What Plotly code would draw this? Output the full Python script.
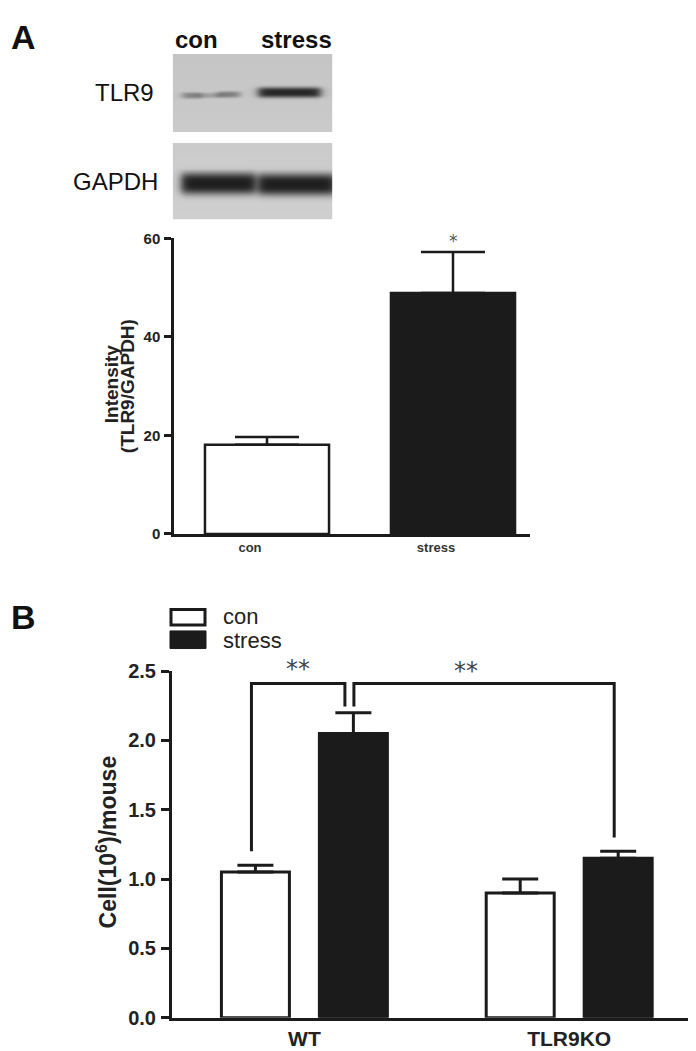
import numpy as np
import plotly.graph_objects as go

W, H = 696, 1051

# ---------------- data ----------------
# Panel A: densitometry
a_categories = ["con", "stress"]
a_means = [18.1, 48.9]
a_sem = [1.6, 8.3]
a_yticks = [0, 20, 40, 60]

# Panel B: cell counts
b_groups = ["WT", "TLR9KO"]
b_con_means = [1.05, 0.90]
b_con_sem = [0.05, 0.10]
b_stress_means = [2.05, 1.15]
b_stress_sem = [0.15, 0.05]
b_yticks = [0.0, 0.5, 1.0, 1.5, 2.0, 2.5]

# Western blot (relative band darkness per lane)
blot_rows = ["TLR9", "GAPDH"]
blot_lanes = ["con", "stress"]
blot_tlr9 = [0.45, 0.95]
blot_gapdh = [1.0, 1.0]

FONT = "Liberation Sans, Arial, sans-serif"
STAR_FONT = "DejaVu Sans, sans-serif"
INK = "#1b1b1b"


def px(x):
    return x / W


def py(y):
    return 1 - y / H


# ---------------- blot image ----------------
ix0, ix1, iy0, iy1 = 163, 326, 35, 205
bw, bh = ix1 - ix0, iy1 - iy0
yy, xx = np.mgrid[0:bh, 0:bw].astype(float)
xx += ix0
yy += iy0
img = np.full((bh, bw), 255.0)
box1 = (yy >= 36) & (yy < 116)
box2 = (yy >= 127) & (yy < 205)
img[box1] = 197.0 + (yy[box1] - 36) * 0.06
img[box2] = 203.0 + (yy[box2] - 127) * 0.05


def sig(v):
    return 1.0 / (1.0 + np.exp(-v))


def band(xl, xr, yc, hh, amp, soft=2.5):
    hp = sig((xx - xl) / soft) * sig((xr - xx) / soft)
    vp = np.exp(-(np.abs(yy - yc) / hh) ** 3)
    return amp * hp * vp


dark = np.zeros_like(img)
# TLR9 con (faint, lobed) and stress
dark += band(172, 192, 78, 3.2, blot_tlr9[0] * 0.9)
dark += band(188, 212, 78, 2.6, blot_tlr9[0] * 0.45)
dark += band(208, 230, 77, 3.2, blot_tlr9[0] * 0.95)
dark += band(250, 313, 75, 5.2, blot_tlr9[1])
# GAPDH
dark += band(171, 247, 168, 11.0, blot_gapdh[0])
dark += band(250, 328, 169, 11.0, blot_gapdh[1])
dark = np.clip(dark, 0, 1)
mask = box1 | box2
img = np.where(mask, img * (1 - dark) + 30 * dark, img)
rgb = np.stack([img, img, img], axis=-1).round().astype(np.uint8).tolist()

fig = go.Figure()

fig.add_trace(go.Image(z=rgb, x0=0, dx=1, y0=0, dy=1, xaxis="x3", yaxis="y3",
                       hoverinfo="skip"))

# ---------------- panel A bars ----------------
fig.add_trace(go.Bar(
    x=list(range(len(a_categories))), y=a_means, width=0.667,
    marker=dict(color=["white", INK], line=dict(color=INK, width=2.5)),
    error_y=dict(type="data", array=a_sem, arrayminus=[0] * len(a_sem),
                 symmetric=False, width=32, thickness=2.5, color=INK),
    xaxis="x", yaxis="y", showlegend=False, hoverinfo="skip",
))

# ---------------- panel B bars ----------------
bxs = list(range(len(b_groups)))
fig.add_trace(go.Bar(
    x=bxs, y=b_con_means, name="con",
    marker=dict(color="white", line=dict(color=INK, width=3)),
    error_y=dict(type="data", array=b_con_sem, arrayminus=[0] * len(b_con_sem),
                 symmetric=False, width=18, thickness=3, color=INK),
    xaxis="x2", yaxis="y2", showlegend=False, hoverinfo="skip",
))
fig.add_trace(go.Bar(
    x=bxs, y=b_stress_means, name="stress",
    marker=dict(color=INK, line=dict(color=INK, width=3)),
    error_y=dict(type="data", array=b_stress_sem, arrayminus=[0] * len(b_stress_sem),
                 symmetric=False, width=18, thickness=3, color=INK),
    xaxis="x2", yaxis="y2", showlegend=False, hoverinfo="skip",
))

BARGAP = 0.26
slot = (1 - BARGAP) / 2
shift = -0.015
xc_con = [i - slot / 2 + shift for i in bxs]
xc_str = [i + slot / 2 + shift for i in bxs]
con_top = [m + e for m, e in zip(b_con_means, b_con_sem)]
str_top = [m + e for m, e in zip(b_stress_means, b_stress_sem)]
level = max(str_top) + 0.21
gap = 0.017

shapes = []
bracket_paths = [
    # WT con vs WT stress
    [(xc_con[0], con_top[0] + 0.10), (xc_con[0], level),
     (xc_str[0] - gap, level), (xc_str[0] - gap, str_top[0] + 0.045)],
    # WT stress vs TLR9KO stress
    [(xc_str[0] + gap, str_top[0] + 0.045), (xc_str[0] + gap, level),
     (xc_str[1], level), (xc_str[1], str_top[1] + 0.10)],
]
for pts in bracket_paths:
    path = "M " + " L ".join(f"{x},{y}" for x, y in pts)
    shapes.append(dict(type="path", path=path, xref="x2", yref="y2",
                       line=dict(color=INK, width=3)))

# legend boxes (panel B)
shapes.append(dict(type="rect", xref="paper", yref="paper",
                   x0=px(163), x1=px(197), y0=py(619), y1=py(603),
                   fillcolor="white", line=dict(color=INK, width=3)))
shapes.append(dict(type="rect", xref="paper", yref="paper",
                   x0=px(162), x1=px(198), y0=py(643), y1=py(625),
                   fillcolor=INK, line=dict(color=INK, width=1)))

ann = []


def txt(x, y, s, size, bold=False, color="#111", xanchor="center", angle=0, family=FONT):
    ann.append(dict(x=px(x), y=py(y), xref="paper", yref="paper", text=s,
                    showarrow=False, xanchor=xanchor, yanchor="middle",
                    textangle=angle,
                    font=dict(family=family, size=size, color=color,
                              weight="bold" if bold else "normal")))


txt(15, 18, "A", 34, bold=True)
txt(188, 21, blot_lanes[0], 24, bold=True)
txt(288, 21, blot_lanes[1], 24, bold=True)
txt(116, 75, blot_rows[0], 24)
txt(107, 166, blot_rows[1], 24)
txt(103, 373, "Intensity", 19, bold=True, color="#222", angle=-90)
txt(119, 375, "(TLR9/GAPDH)", 19, bold=True, color="#222", angle=-90)
txt(445, 227, "*", 17, color="#555", family=STAR_FONT)

txt(15, 611, "B", 34, bold=True)
txt(213, 610, "con", 22, color="#222", xanchor="left")
txt(213, 635, "stress", 22, color="#222", xanchor="left")
txt(99, 841, "Cell(10<sup>6</sup>)/mouse", 23, bold=True, color="#222", angle=-90)

# significance marks anchored on the bracket level
ann.append(dict(x=(xc_con[0] + xc_str[0] - gap) / 2, y=level, yshift=15,
                xref="x2", yref="y2", text="**", showarrow=False, yanchor="middle",
                font=dict(family=STAR_FONT, size=24, color="#444")))
ann.append(dict(x=xc_str[0] + gap + 0.43 * (xc_str[1] - xc_str[0] - gap), y=level,
                yshift=13, xref="x2", yref="y2", text="**", showarrow=False,
                yanchor="middle", font=dict(family=STAR_FONT, size=24, color="#444")))

axis_common = dict(showgrid=False, zeroline=False, showline=True, linecolor=INK)

fig.update_layout(
    width=W, height=H, margin=dict(l=0, r=0, t=0, b=0),
    paper_bgcolor="white", plot_bgcolor="white",
    barmode="group", bargap=BARGAP, bargroupgap=0.306,
    showlegend=False,
    shapes=shapes, annotations=ann,
    xaxis=dict(domain=[px(166), px(522)], range=[-0.5, 1.414], type="linear",
               anchor="y", tickvals=[0, 1], ticktext=a_categories, ticks="",
               ticklabelshift=-17, ticklabelstandoff=0, linewidth=2.5,
               tickfont=dict(family=FONT, size=13, color="#333", weight="bold"),
               **axis_common),
    yaxis=dict(domain=[py(526), py(224)], range=[0, 60], anchor="x",
               tickvals=a_yticks, ticks="outside", ticklen=7, tickwidth=2.5,
               tickcolor=INK, linewidth=2.5, ticklabelstandoff=1,
               tickfont=dict(family=FONT, size=15, color="#222", weight="bold"),
               **axis_common),
    xaxis2=dict(domain=[px(164), px(683)], range=[-0.5, 1.46], type="linear",
                anchor="y2", tickvals=bxs, ticktext=b_groups, ticks="",
                ticklabelstandoff=0, linewidth=3,
                tickfont=dict(family=FONT, size=21, color="#222", weight="bold"),
                **axis_common),
    yaxis2=dict(domain=[py(1020), py(666)], range=[0, 2.5], anchor="x2",
                tickvals=b_yticks, ticktext=[f"{v:.1f}" for v in b_yticks],
                ticks="outside", ticklen=8, tickwidth=3, tickcolor=INK,
                linewidth=3, ticklabelstandoff=1,
                tickfont=dict(family=FONT, size=20, color="#222", weight="bold"),
                **axis_common),
    xaxis3=dict(domain=[px(ix0), px(ix1)], range=[-0.5, bw - 0.5], visible=False,
                anchor="y3"),
    yaxis3=dict(domain=[py(iy1), py(iy0)], range=[bh - 0.5, -0.5], visible=False,
                anchor="x3"),
)

fig.write_html("out.html")
